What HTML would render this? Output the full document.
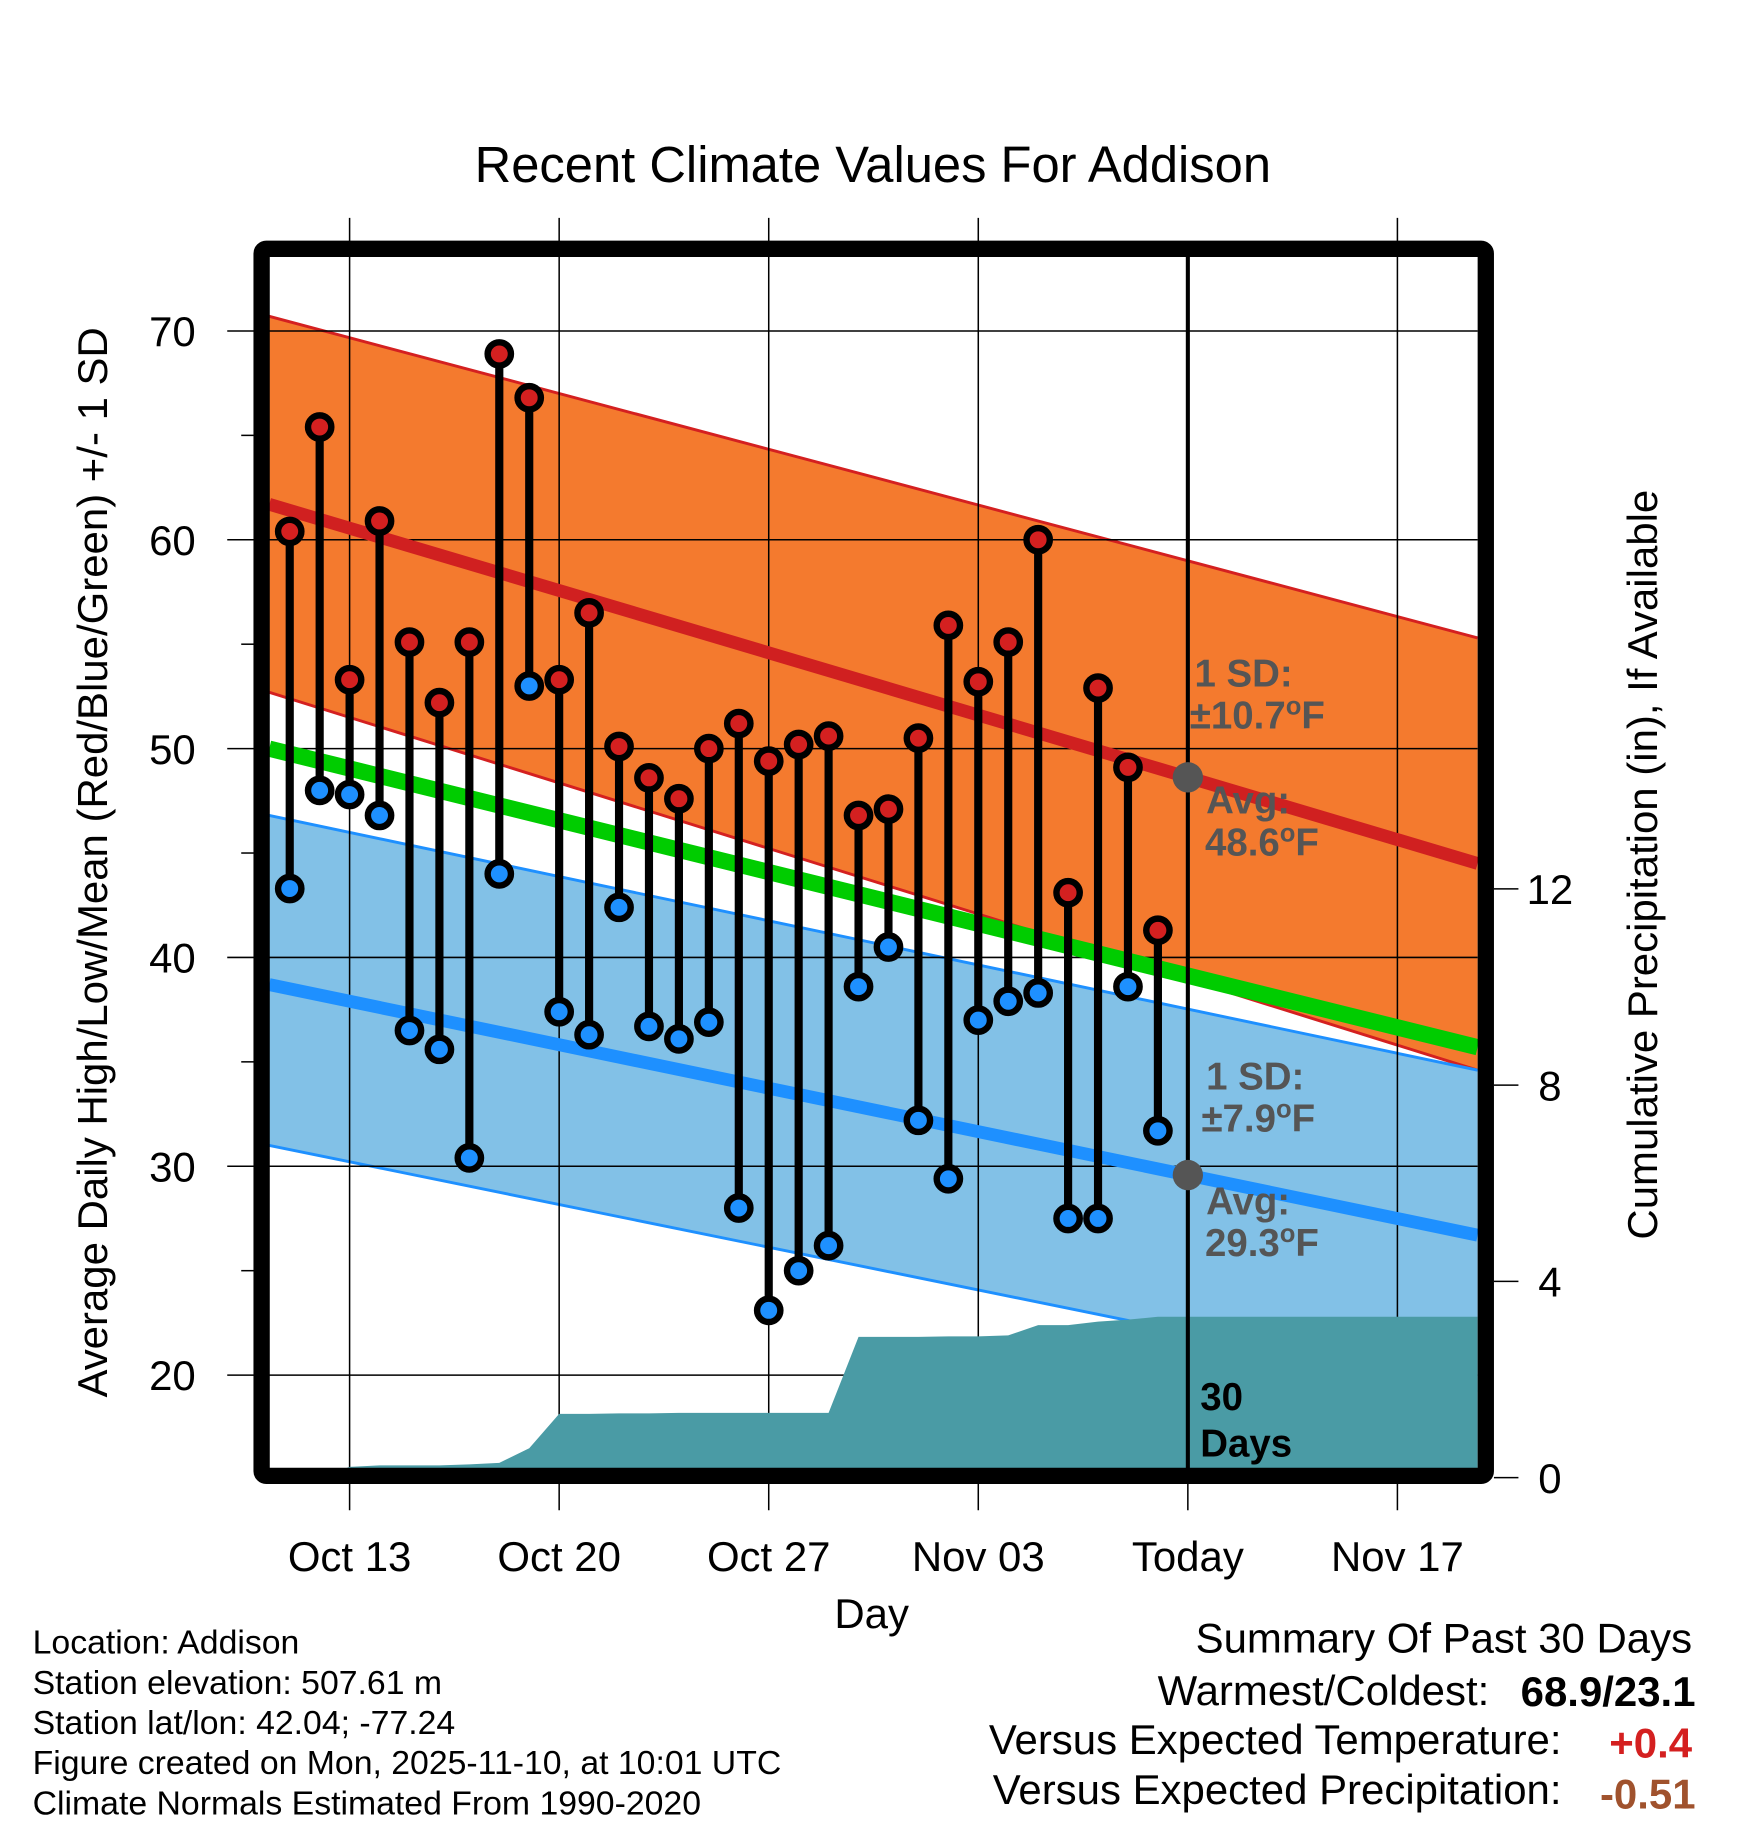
<!DOCTYPE html>
<html><head><meta charset="utf-8"><style>html,body{margin:0;padding:0;background:#fff}svg{display:block}text{font-family:"Liberation Sans",sans-serif}</style></head>
<body>
<svg id="chart" width="1748" height="1828" viewBox="0 0 1500 1568.65" xmlns="http://www.w3.org/2000/svg">
<text x="749" y="156" font-size="43.5" text-anchor="middle">Recent Climate Values For Addison</text>
<g id="layer"></g>
</svg>
<script>
const highs=[60.4,65.4,53.3,60.9,55.1,52.2,55.1,68.9,66.8,53.3,56.5,50.1,48.6,47.6,50.0,51.2,49.4,50.2,50.6,46.8,47.1,50.5,55.9,53.2,55.1,60.0,43.1,52.9,49.1,41.3];
const lows=[43.3,48.0,47.8,46.8,36.5,35.6,30.4,44.0,53.0,37.4,36.3,42.4,36.7,36.1,36.9,28.0,23.1,25.0,26.2,38.6,40.5,32.2,29.4,37.0,37.9,38.3,27.5,27.5,38.6,31.7];
const precip=[0,0,0.22,0.25,0.25,0.25,0.27,0.3,0.6,1.3,1.3,1.31,1.31,1.32,1.32,1.32,1.32,1.32,1.32,2.87,2.87,2.87,2.88,2.88,2.9,3.11,3.11,3.18,3.22,3.28];
const firstDay=-2; // Oct 11 relative to Oct 13
const normHigh=[61.7,44.5], highUpper=[70.7,55.3], highLower=[52.7,34.6];
const normMean=[50.0,35.7];
const normLow=[38.7,26.7], lowUpper=[46.8,34.6], lowLower=[31.0,19.2];
const xTickLabels=["Oct 13","Oct 20","Oct 27","Nov 03","Today","Nov 17"];
const yTicks=[20,30,40,50,60,70];
const y2Ticks=[0,4,8,12];
const ns="http://www.w3.org/2000/svg";
const L=231,R=1268,T=220,B=1260;
const x=d=>300+d*25.69;
const y=v=>284+(70-v)*17.92;
const y2=p=>1268-p*42.1;
const dL=(L-300)/25.69,dR=(R-300)/25.69;
const lerp=(a,b,d)=>a+(b-a)*(d-dL)/(dR-dL);
const g=document.getElementById('layer');
function el(tag,attrs,txt){const e=document.createElementNS(ns,tag);for(const k in attrs)e.setAttribute(k,attrs[k]);if(txt!==undefined)e.textContent=txt;g.appendChild(e);return e;}
const defs=el('defs',{});const cp=document.createElementNS(ns,'clipPath');cp.setAttribute('id','pc');const cr=document.createElementNS(ns,'rect');cr.setAttribute('x',L);cr.setAttribute('y',T);cr.setAttribute('width',R-L);cr.setAttribute('height',B-T);cp.appendChild(cr);defs.appendChild(cp);
function band(up,lo,fill,edge,name){
 const p=el('polygon',{points:`${L},${y(up[0])} ${R},${y(up[1])} ${R},${y(lo[1])} ${L},${y(lo[0])}`,fill:fill,'clip-path':'url(#pc)'});
 
 const a=el('line',{x1:L,y1:y(up[0]),x2:R,y2:y(up[1]),stroke:edge,'stroke-width':2.5});
 const b=el('line',{x1:L,y1:y(lo[0]),x2:R,y2:y(lo[1]),stroke:edge,'stroke-width':2.5,'clip-path':'url(#pc)'});
}
band(highUpper,highLower,'#f47a2e','#d42020','high-sd-band');
band(lowUpper,lowLower,'#82c1e7','#1e90ff','low-sd-band');
yTicks.forEach(v=>{const l=el('line',{x1:195,y1:y(v),x2:R,y2:y(v),stroke:'#000','stroke-width':1.3});
 const t=el('text',{x:168,y:y(v)+13,'font-size':36,'text-anchor':'end'},String(v));});
[25,35,45,55,65].forEach(v=>{const l=el('line',{x1:207,y1:y(v),x2:218,y2:y(v),stroke:'#000','stroke-width':1.3});});
xTickLabels.forEach((s,i)=>{const xx=x(i*7);if(s!=='Today'){const l=el('line',{x1:xx,y1:187,x2:xx,y2:1296,stroke:'#000','stroke-width':1.3});}else{const l=el('line',{x1:xx,y1:1262,x2:xx,y2:1296,stroke:'#000','stroke-width':1.3});}
 const t=el('text',{x:xx,y:1348,'font-size':36,'text-anchor':'middle'},s);});
let pts=`${L},${B} `;precip.forEach((p,i)=>{pts+=`${x(firstDay+i)},${y2(p)} `;});pts+=`${R},${y2(precip[precip.length-1])} ${R},${B}`;
const pa=el('polygon',{points:pts,fill:'#4a9ba5','clip-path':'url(#pc)'});
function ml(a,c,w,name){const l=el('line',{x1:L,y1:y(a[0]),x2:R,y2:y(a[1]),stroke:c,'stroke-width':w});}
ml(normMean,'#00cc00',14,'normal-mean-line');
ml(normHigh,'#d02020',11,'normal-high-line');
ml(normLow,'#1e90ff',11,'normal-low-line');
const tl=el('line',{x1:x(28),y1:T,x2:x(28),y2:B,stroke:'#000','stroke-width':3.5});
const hiToday=lerp(normHigh[0],normHigh[1],28),loToday=lerp(normLow[0],normLow[1],28);
[[hiToday,'today-high-avg-dot'],[loToday,'today-low-avg-dot']].forEach(([v,n])=>{const c=el('circle',{cx:x(28),cy:y(v),r:13,fill:'#555'});});
highs.forEach((h,i)=>{const xx=x(firstDay+i);
 const s=el('line',{x1:xx,y1:y(h),x2:xx,y2:y(lows[i]),stroke:'#000','stroke-width':7});
 const a=el('circle',{cx:xx,cy:y(h),r:10,fill:'#d42020',stroke:'#000','stroke-width':5.5});
 const b=el('circle',{cx:xx,cy:y(lows[i]),r:10,fill:'#1e90ff',stroke:'#000','stroke-width':5.5});});
function tx(xx,yy,s,sz,fill,name){const t=el('text',{x:xx,y:yy,'font-size':sz,fill:fill,'font-weight':'bold'});t.innerHTML=s;return t;}
const deg='<tspan dy="-12" font-size="22">o</tspan><tspan dy="12">F</tspan>';
tx(1025,589,'1 SD:',33,'#555','high-sd-label');
tx(1021,625,'±10.7'+deg,33,'#555','high-sd-value');
tx(1035,698,'Avg:',33,'#555','high-avg-label');
tx(1034,734,'48.6'+deg,33,'#555','high-avg-value');
tx(1035,935,'1 SD:',33,'#555','low-sd-label');
tx(1031,971,'±7.9'+deg,33,'#555','low-sd-value');
tx(1035,1042,'Avg:',33,'#555','low-avg-label');
tx(1034,1078,'29.3'+deg,33,'#555','low-avg-value');
tx(1030,1210,'30',33,'#000','window-days-number');
tx(1030,1250,'Days',33,'#000','window-days-label');
const fr=el('rect',{x:224.5,y:213.5,width:1050.5,height:1053,fill:'none',stroke:'#000','stroke-width':14,rx:4});
y2Ticks.forEach(p=>{const l=el('line',{x1:1282,y1:y2(p),x2:1303,y2:y2(p),stroke:'#000','stroke-width':1.3});
 const t=el('text',{x:1330,y:y2(p)+13,'font-size':36,'text-anchor':'middle'},String(p));});
let t=el('text',{x:0,y:0,'font-size':36,'text-anchor':'middle',transform:'translate(92,740) rotate(-90)'},'Average Daily High/Low/Mean (Red/Blue/Green) +/- 1 SD');
t=el('text',{x:0,y:0,'font-size':36,'text-anchor':'middle',transform:'translate(1422,742) rotate(-90)'},'Cumulative Precipitation (in), If Available');
t=el('text',{x:748,y:1397,'font-size':36,'text-anchor':'middle'},'Day');
["Location: Addison","Station elevation: 507.61 m","Station lat/lon: 42.04; -77.24","Figure created on Mon, 2025-11-10, at 10:01 UTC","Climate Normals Estimated From 1990-2020"].forEach((s,i)=>{const f=el('text',{x:28,y:1419+i*34.5,'font-size':29},s);});
t=el('text',{x:1452,y:1418,'font-size':36,'text-anchor':'end'},'Summary Of Past 30 Days');
t=el('text',{x:1278,y:1463,'font-size':36,'text-anchor':'end'},'Warmest/Coldest:');
t=el('text',{x:1455,y:1464,'font-size':36,'text-anchor':'end','font-weight':'bold'},'68.9/23.1');
t=el('text',{x:1340,y:1505,'font-size':36,'text-anchor':'end'},'Versus Expected Temperature:');
t=el('text',{x:1452,y:1508,'font-size':36,'text-anchor':'end','font-weight':'bold',fill:'#d42020'},'+0.4');
t=el('text',{x:1340,y:1548,'font-size':36,'text-anchor':'end'},'Versus Expected Precipitation:');
t=el('text',{x:1455,y:1552,'font-size':36,'text-anchor':'end','font-weight':'bold',fill:'#a0522d'},'-0.51');
</script>
</body></html>
